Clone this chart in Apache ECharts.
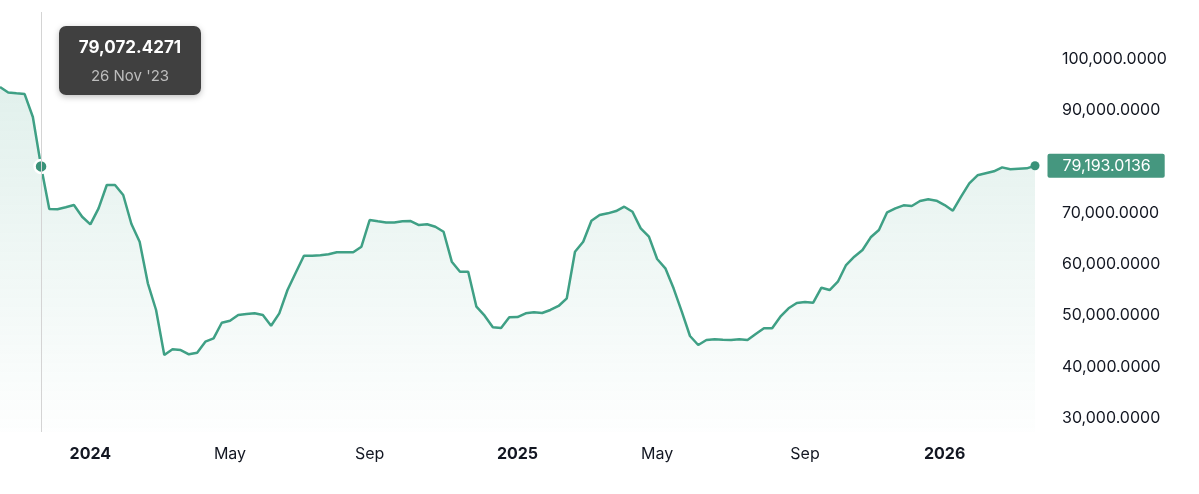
<!DOCTYPE html>
<html>
<head>
<meta charset="utf-8">
<script src="https://cdn.jsdelivr.net/npm/echarts@6/dist/echarts.min.js"></script>
<style>
html,body{margin:0;padding:0;background:#fff;}
#chart{width:1199px;height:494px;}
</style>
</head>
<body>
<div id="chart"></div>
<script>
const dates = [
'2023-10-22','2023-10-29','2023-11-05','2023-11-12','2023-11-19','2023-11-26','2023-12-03','2023-12-10','2023-12-17','2023-12-24','2023-12-31',
'2024-01-07','2024-01-14','2024-01-21','2024-01-28','2024-02-04','2024-02-11','2024-02-18','2024-02-25','2024-03-03','2024-03-10','2024-03-17','2024-03-24','2024-03-31',
'2024-04-07','2024-04-14','2024-04-21','2024-04-28','2024-05-05','2024-05-12','2024-05-19','2024-05-26','2024-06-02','2024-06-09','2024-06-16','2024-06-23','2024-06-30',
'2024-07-07','2024-07-14','2024-07-21','2024-07-28','2024-08-04','2024-08-11','2024-08-18','2024-08-25','2024-09-01','2024-09-08','2024-09-15','2024-09-22','2024-09-29',
'2024-10-06','2024-10-13','2024-10-20','2024-10-27','2024-11-03','2024-11-10','2024-11-17','2024-11-24','2024-12-01','2024-12-08','2024-12-15','2024-12-22','2024-12-29',
'2025-01-05','2025-01-12','2025-01-19','2025-01-26','2025-02-02','2025-02-09','2025-02-16','2025-02-23','2025-03-02','2025-03-09','2025-03-16','2025-03-23','2025-03-30',
'2025-04-06','2025-04-13','2025-04-20','2025-04-27','2025-05-04','2025-05-11','2025-05-18','2025-05-25','2025-06-01','2025-06-08','2025-06-15','2025-06-22','2025-06-29',
'2025-07-06','2025-07-13','2025-07-20','2025-07-27','2025-08-03','2025-08-10','2025-08-17','2025-08-24','2025-08-31','2025-09-07','2025-09-14','2025-09-21','2025-09-28',
'2025-10-05','2025-10-12','2025-10-19','2025-10-26','2025-11-02','2025-11-09','2025-11-16','2025-11-23','2025-11-30','2025-12-07','2025-12-14','2025-12-21','2025-12-28',
'2026-01-04','2026-01-11','2026-01-18','2026-01-25','2026-02-01','2026-02-08','2026-02-15','2026-02-22','2026-03-01','2026-03-08','2026-03-15','2026-03-22'
];
const values = [
94540,93470,93310,93170,88690,79072.4271,70770,70710,71120,71550,69270,
67790,70910,75450,75450,73500,67850,64400,56300,51100,42340,43440,43300,42470,
42780,44920,45580,48620,49010,50120,50320,50450,50120,48040,50450,54990,58360,
61670,61670,61750,61950,62340,62340,62340,63430,68630,68380,68140,68140,68380,
68430,67650,67790,67320,66350,60510,58560,58560,51740,49990,47730,47590,49680,
49730,50450,50650,50510,51100,51880,53380,62450,64400,68490,69600,69930,70380,
71220,70250,67010,65380,61030,59220,55320,50770,46030,44280,45250,45390,45310,
45250,45390,45250,46420,47530,47530,49790,51430,52460,52660,52520,55440,54990,
56610,59860,61480,62780,65260,66680,70130,70910,71490,71360,72330,72660,72390,
71550,70440,73170,75780,77340,77730,78120,78890,78510,78620,78700,79193.0136
];
const yTickValues = [30000,40000,50000,60000,70000,90000,100000];
const monthNames = ['Jan','Feb','Mar','Apr','May','Jun','Jul','Aug','Sep','Oct','Nov','Dec'];
const labelMonths = [1,5,9];
const tooltipIndex = 5;

const GREEN = '#3a9279';
const FONT = 'Inter, "Noto Sans", sans-serif';

function fmt(v){ return v.toLocaleString('en-US',{minimumFractionDigits:4, maximumFractionDigits:4}); }
function month(i){ return parseInt(dates[i].slice(5,7),10); }
function isLabel(i){
  if(i===0) return false;
  const m = month(i);
  return m !== month(i-1) && labelMonths.indexOf(m) >= 0;
}

const chart = echarts.init(document.getElementById('chart'), null, {renderer:'canvas'});
const last = values.length - 1;
chart.setOption({
  animation:false,
  grid:{left:-2, right:164, top:12, bottom:62, containLabel:false},
  xAxis:{
    type:'category', data:dates, boundaryGap:false,
    axisLine:{show:false}, axisTick:{show:false}, splitLine:{show:false},
    axisLabel:{
      interval:function(i){ return isLabel(i); },
      margin:14, fontSize:16, color:'#131722', fontFamily:FONT,
      formatter:function(val, i){
        const m = parseInt(val.slice(5,7),10);
        if(m===1) return '{y|'+val.slice(0,4)+'}';
        return monthNames[m-1];
      },
      rich:{y:{fontWeight:'bold', fontSize:16, color:'#131722', fontFamily:FONT}}
    }
  },
  yAxis:{
    type:'value', position:'right', min:27331, max:109154,
    axisLine:{show:false}, axisTick:{show:false}, splitLine:{show:false},
    axisLabel:{
      customValues:yTickValues, margin:27, align:'left',
      fontSize:16, color:'#131722', fontFamily:FONT,
      formatter:function(v){ return fmt(v); }
    }
  },
  tooltip:{
    trigger:'axis', alwaysShowContent:true, transitionDuration:0,
    showDelay:0, hideDelay:0,
    position:[59,26],
    backgroundColor:'rgba(58,58,58,0.97)', borderWidth:0, padding:0,
    extraCssText:'border-radius:7px;box-shadow:0 2px 6px rgba(0,0,0,0.25);width:142px;height:69px;box-sizing:border-box;',
    axisPointer:{type:'line', lineStyle:{color:'#d4d4d4', width:1, type:'solid'}, label:{show:false}},
    formatter:function(params){
      const p = params[0];
      const d = p.axisValue;
      const dt = parseInt(d.slice(8,10),10)+' '+monthNames[parseInt(d.slice(5,7),10)-1]+" '"+d.slice(2,4);
      return '<div style="text-align:center;font-family:Inter,sans-serif;padding-top:10px;">'+
        '<div style="color:#fff;font-weight:bold;font-size:17px;line-height:22px;">'+fmt(p.value)+'</div>'+
        '<div style="color:#bdbdbd;font-size:15px;line-height:20px;margin-top:8px;">'+dt+'</div></div>';
    }
  },
  series:[{
    type:'line', data:values, showSymbol:false, symbol:'circle', symbolSize:13,
    lineStyle:{color:GREEN, width:2.5},
    itemStyle:{color:GREEN, borderColor:'#fff', borderWidth:2.5},
    emphasis:{scale:false, lineStyle:{width:2.5}, itemStyle:{color:GREEN, borderColor:'#fff', borderWidth:2.5}},
    areaStyle:{color:new echarts.graphic.LinearGradient(0,0,0,1,[
      {offset:0,color:'rgba(58,146,121,0.22)'},
      {offset:1,color:'rgba(58,146,121,0.01)'}
    ])},
    markPoint:{
      symbol:'circle', symbolSize:9, silent:true,
      itemStyle:{color:GREEN, borderWidth:0},
      data:[{coord:[last, values[last]], value:values[last]}],
      label:{
        show:true, position:'right', distance:8,
        formatter:function(p){ return fmt(p.value); },
        backgroundColor:'#45977f', color:'#fff', fontSize:16, fontFamily:FONT,
        lineHeight:16, padding:[4,14,4,15], borderRadius:2
      }
    }
  }]
});
chart.dispatchAction({type:'showTip', seriesIndex:0, dataIndex:tooltipIndex});
</script>
</body>
</html>
